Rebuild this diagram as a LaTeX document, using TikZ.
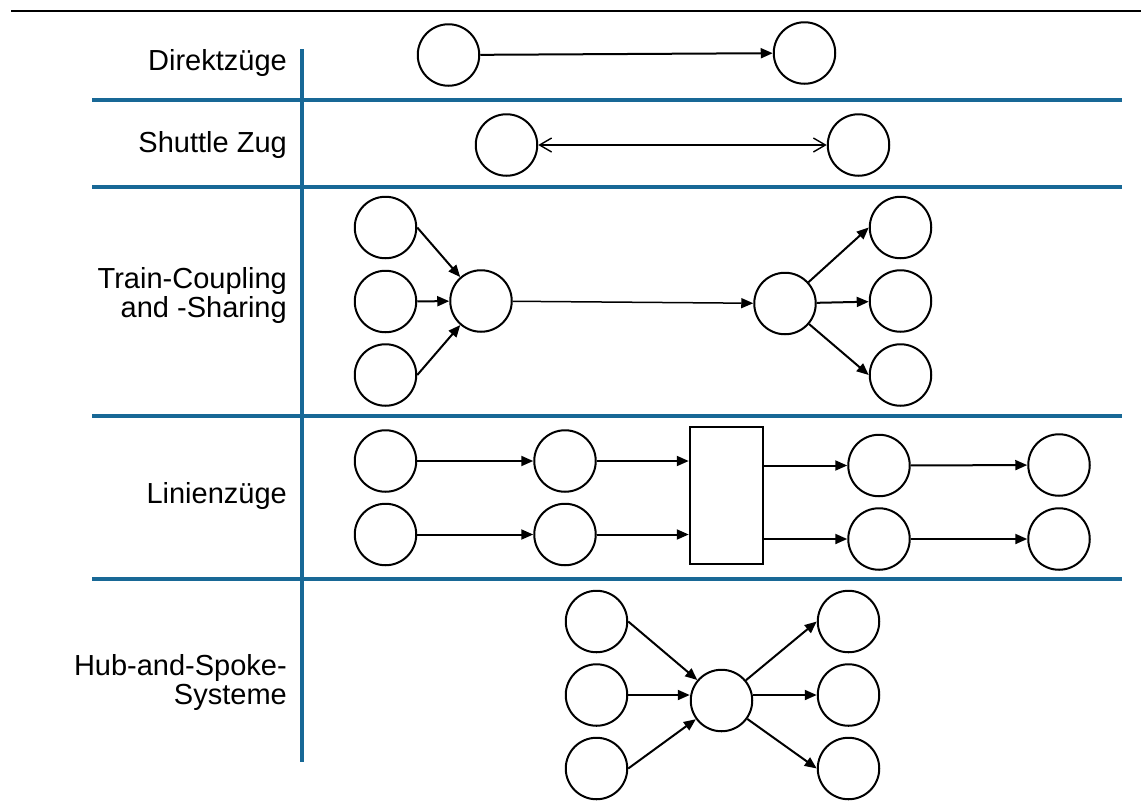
\documentclass[tikz,border=0pt]{standalone}
\usepackage{fontspec}
\setmainfont{Liberation Sans}
\usetikzlibrary{arrows.meta}
\definecolor{rowblue}{RGB}{24,104,150}
\begin{document}
\begin{tikzpicture}[x=1pt,y=-1pt,
  stn/.style={circle,draw,line width=2pt,minimum size=61.5pt,inner sep=0pt},
  box/.style={rectangle,draw,line width=2pt,inner sep=0pt,minimum width=73.5pt,minimum height=137.5pt},
  sep/.style={rowblue,line width=3.5pt},
  lbl/.style={font=\fontsize{29}{29}\selectfont,align=right,inner sep=0pt},
  arr/.style={line width=2pt,-{Triangle[length=12pt,width=10pt]}},
  thinarr/.style={line width=1.5pt,-{Triangle[length=12pt,width=10pt]}},
  shut/.style={line width=1.4pt,{Straight Barb[length=12pt,width=14pt]}-{Straight Barb[length=12pt,width=14pt]}}]
\useasboundingbox (0,0) rectangle (1141,807);

% frame lines
\coordinate (tl) at (11,11); \coordinate (tr) at (1141,11);
\draw[line width=2pt] (tl) -- (tr);
\coordinate (v1) at (302,49); \coordinate (v2) at (302,762);
\draw[sep] (v1) -- (v2);
\foreach \y/\n in {100/a,187/b,416/c,579/d}{
  \coordinate (h\n l) at (92,\y); \coordinate (h\n r) at (1122,\y);
  \draw[sep] (h\n l) -- (h\n r);
}

% labels
\node[lbl,anchor=base east] (ldir) at (287,70) {Direktzüge};
\node[lbl,anchor=base east] (lshu) at (287,152) {Shuttle Zug};
\node[lbl,anchor=east] (ltc) at (287,295) {Train-Coupling\\and -Sharing};
\node[lbl,anchor=base east] (llin) at (287,503) {Linienzüge};
\node[lbl,anchor=east] (lhub) at (287,682) {Hub-and-Spoke-\\Systeme};

% Direktzuege
\node[stn] (d1) at (448.5,55) {};
\node[stn] (d2) at (804.5,53) {};
\draw[arr] (d1) -- (d2);

% Shuttle
\node[stn] (s1) at (506.5,145) {};
\node[stn] (s2) at (858.5,145) {};
\draw[shut] (s1) -- (s2);

% Train coupling and sharing
\node[stn] (t1) at (385.5,227.5) {};
\node[stn] (t2) at (385.5,301.5) {};
\node[stn] (t3) at (385.5,375) {};
\node[stn] (th1) at (481,301) {};
\node[stn] (th2) at (785,303.5) {};
\node[stn] (t4) at (900.5,227.5) {};
\node[stn] (t5) at (900.5,301) {};
\node[stn] (t6) at (900.5,375) {};
\draw[arr] (t1.east) -- (th1);
\draw[arr] (t2) -- (th1);
\draw[arr] (t3.east) -- (th1);
\draw[thinarr] (th1) -- (th2);
\draw[arr] (th2) -- (t4.west);
\draw[arr] (th2) -- (t5);
\draw[arr] (th2) -- (t6.west);

% Linienzuege
\node[stn] (l11) at (385.5,461) {};
\node[stn] (l12) at (565,461) {};
\node[stn] (l13) at (879,465.5) {};
\node[stn] (l14) at (1059,465) {};
\node[stn] (l21) at (385.5,534.5) {};
\node[stn] (l22) at (565,534.5) {};
\node[stn] (l23) at (879,539) {};
\node[stn] (l24) at (1059,539) {};
\node[box] (lb) at (726.5,495.5) {};
\draw[arr] (l11) -- (l12);
\draw[arr] (l12) -- (l12 -| lb.west);
\draw[arr] (lb.east |- l13) -- (l13);
\draw[arr] (l13) -- (l14);
\draw[arr] (l21) -- (l22);
\draw[arr] (l22) -- (l22 -| lb.west);
\draw[arr] (lb.east |- l23) -- (l23);
\draw[arr] (l23) -- (l24);

% Hub and spoke
\node[stn] (hs1) at (596.5,621.5) {};
\node[stn] (hs2) at (596.5,695) {};
\node[stn] (hs3) at (596.5,768.5) {};
\node[stn] (hc) at (721.5,700.5) {};
\node[stn] (hs4) at (848.5,621.5) {};
\node[stn] (hs5) at (848.5,695) {};
\node[stn] (hs6) at (848.5,768.5) {};
\draw[arr] (hs1.east) -- (hc);
\draw[arr] (hs2) -- (hs2 -| hc.west);
\draw[arr] (hs3.east) -- (hc);
\draw[arr] (hc) -- (hs4.west);
\draw[arr] (hc.east |- hs5) -- (hs5);
\draw[arr] (hc) -- (hs6.west);
\end{tikzpicture}
\end{document}
